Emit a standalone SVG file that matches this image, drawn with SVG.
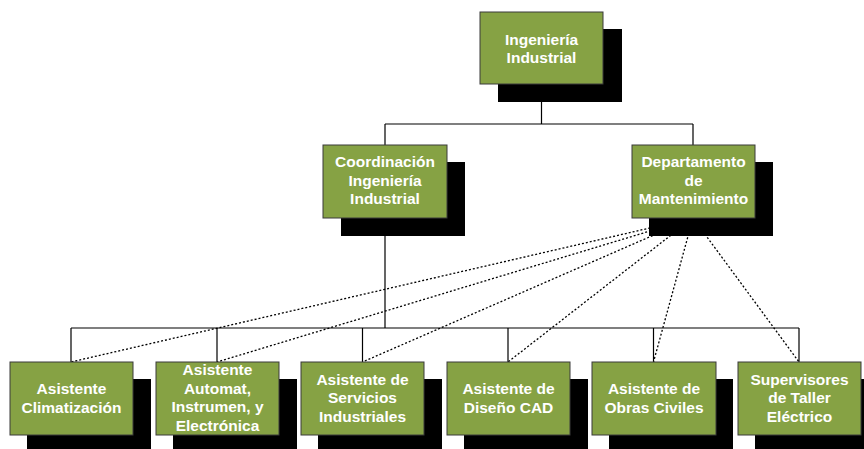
<svg xmlns="http://www.w3.org/2000/svg" width="864" height="449" viewBox="0 0 864 449">
<style>
.sh{fill:#000}
.bx{fill:#86A244;stroke:#3a3a3a;stroke-width:1}
.t{font-family:"Liberation Sans",Arial,sans-serif;font-weight:bold;font-size:15.5px;fill:#fff;text-anchor:middle}
.ln{fill:none;stroke:#000;stroke-width:1.2}
.dt{fill:none;stroke:#000;stroke-width:1.3;stroke-dasharray:2,2}
</style>
<rect width="864" height="449" fill="#fff"/>
<g id="connectors">
<path class="ln" d="M541.5,84V124M385,124H693M385,124V145M693,124V145"/>
<path class="ln" d="M385,218V328M71,328H799M71,328V362M217,328V362M362.5,328V362M508,328V362M653.5,328V362M799,328V362"/>
<path class="dt" d="M693,218L71,362M693,218L217,362M693,218L362.5,362M693,218L508,362M693,218L653.5,362M693,218L799,362"/>
</g>
<g id="n-ing">
<rect class="sh" x="498" y="29" width="124" height="73"/>
<rect class="bx" x="480" y="12" width="123" height="72"/>
<text class="t" x="541.5" y="44.5">Ingeniería</text>
<text class="t" x="541.5" y="63">Industrial</text>
</g>
<g id="n-coord">
<rect class="sh" x="341" y="162" width="124" height="74"/>
<rect class="bx" x="323" y="145" width="124" height="73"/>
<text class="t" x="385" y="167">Coordinación</text>
<text class="t" x="385" y="185.5">Ingeniería</text>
<text class="t" x="385" y="204">Industrial</text>
</g>
<g id="n-depto">
<rect class="sh" x="649" y="162" width="124" height="74"/>
<rect class="bx" x="632" y="145" width="123" height="73"/>
<text class="t" x="693.5" y="167">Departamento</text>
<text class="t" x="693.5" y="185.5">de</text>
<text class="t" x="693.5" y="204">Mantenimiento</text>
</g>
<g id="n-clima">
<rect class="sh" x="27" y="379" width="124" height="74"/>
<rect class="bx" x="10" y="362" width="123" height="73"/>
<text class="t" x="71.5" y="394">Asistente</text>
<text class="t" x="71.5" y="412.5">Climatización</text>
</g>
<g id="n-automat">
<rect class="sh" x="173" y="379" width="124" height="74"/>
<rect class="bx" x="156" y="362" width="123" height="73"/>
<text class="t" x="217.5" y="375">Asistente</text>
<text class="t" x="217.5" y="393.5">Automat,</text>
<text class="t" x="217.5" y="412">Instrumen, y</text>
<text class="t" x="217.5" y="430.5">Electrónica</text>
</g>
<g id="n-servicios">
<rect class="sh" x="318" y="379" width="124" height="74"/>
<rect class="bx" x="301" y="362" width="123" height="73"/>
<text class="t" x="362.5" y="384.5">Asistente de</text>
<text class="t" x="362.5" y="403">Servicios</text>
<text class="t" x="362.5" y="421.5">Industriales</text>
</g>
<g id="n-cad">
<rect class="sh" x="464" y="379" width="124" height="74"/>
<rect class="bx" x="447" y="362" width="123" height="73"/>
<text class="t" x="508.5" y="394">Asistente de</text>
<text class="t" x="508.5" y="412.5">Diseño CAD</text>
</g>
<g id="n-obras">
<rect class="sh" x="609" y="379" width="124" height="74"/>
<rect class="bx" x="592" y="362" width="124" height="73"/>
<text class="t" x="654" y="394">Asistente de</text>
<text class="t" x="654" y="412.5">Obras Civiles</text>
</g>
<g id="n-taller">
<rect class="sh" x="755" y="379" width="124" height="74"/>
<rect class="bx" x="738" y="362" width="123" height="73"/>
<text class="t" x="799.5" y="384.5">Supervisores</text>
<text class="t" x="799.5" y="403">de Taller</text>
<text class="t" x="799.5" y="421.5">Eléctrico</text>
</g>
</svg>
